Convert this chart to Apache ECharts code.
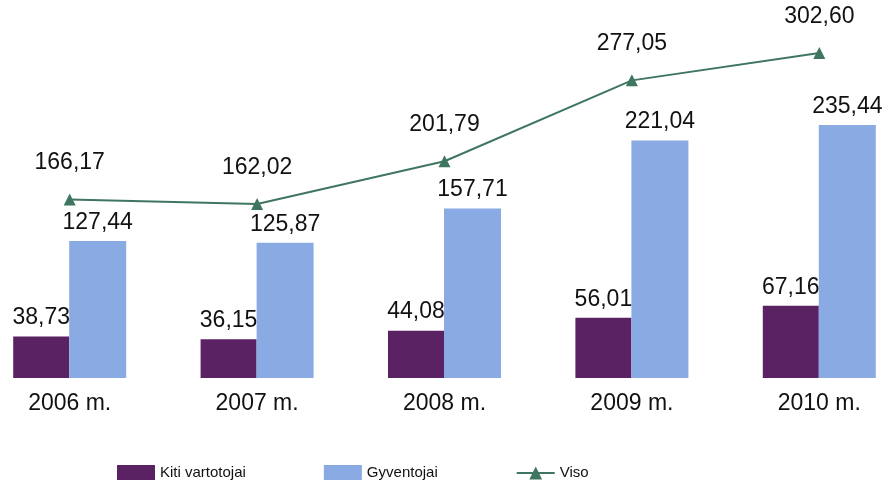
<!DOCTYPE html>
<html>
<head>
<meta charset="utf-8">
<script src="https://cdn.jsdelivr.net/npm/echarts@6/dist/echarts.min.js"></script>
<style>
html,body{margin:0;padding:0;background:#fff;overflow:hidden;width:885px;height:480px;}
#c{width:937px;height:480px;margin-left:-24px;}
</style>
</head>
<body>
<div id="c"></div>
<script>
const categories = ['2006 m.', '2007 m.', '2008 m.', '2009 m.', '2010 m.'];
const kitiVartotojai = [38.73, 36.15, 44.08, 56.01, 67.16];
const gyventojai = [127.44, 125.87, 157.71, 221.04, 235.44];
const viso = [166.17, 162.02, 201.79, 277.05, 302.60];

const fmt = p => p.value.toFixed(2).replace('.', ',');
const font = 'Liberation Sans, Arial, sans-serif';

const chart = echarts.init(document.getElementById('c'));
chart.setOption({
  backgroundColor: '#ffffff',
  animation: false,
  grid: { left: 0, right: 0, top: 2, bottom: 102, containLabel: false },
  legend: {
    left: 136, top: 460,
    itemWidth: 38, itemHeight: 16, itemGap: 78,
    textStyle: { fontFamily: font, fontSize: 15, color: '#111' },
    data: [
      { name: 'Kiti vartotojai', icon: 'rect' },
      { name: 'Gyventojai', icon: 'rect' },
      { name: 'Viso' }
    ]
  },
  xAxis: {
    type: 'category',
    data: categories,
    axisLine: { show: false },
    axisTick: { show: false },
    axisLabel: { fontFamily: font, fontSize: 23, color: '#111', margin: 14 }
  },
  yAxis: {
    type: 'value', min: 0, max: 350,
    show: false,
    splitLine: { show: false }
  },
  series: [
    {
      name: 'Kiti vartotojai', type: 'bar', data: kitiVartotojai,
      barWidth: 56, barGap: '0%',
      itemStyle: { color: '#5a2163' },
      label: { show: true, position: 'top', distance: 7, formatter: fmt,
               fontFamily: font, fontSize: 23, color: '#111' }
    },
    {
      name: 'Gyventojai', type: 'bar', data: gyventojai,
      barWidth: 57,
      itemStyle: { color: '#8aaae3' },
      label: { show: true, position: 'top', distance: 7, formatter: fmt,
               fontFamily: font, fontSize: 23, color: '#111' }
    },
    {
      name: 'Viso', type: 'line', data: viso,
      symbol: 'triangle', symbolSize: 12,
      lineStyle: { color: '#3f7660', width: 2 },
      itemStyle: { color: '#3f7660' },
      z: 5,
      label: { show: true, position: 'top', distance: 19, formatter: fmt,
               fontFamily: font, fontSize: 23, color: '#111' }
    }
  ]
});
</script>
</body>
</html>
